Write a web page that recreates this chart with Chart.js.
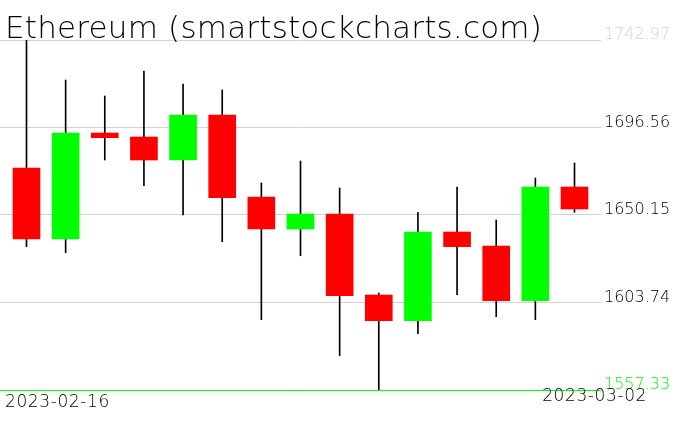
<!DOCTYPE html>
<html lang="en">
<head>
  <meta charset="UTF-8" />
  <title>Ethereum (smartstockcharts.com)</title>
  <script src="https://cdn.jsdelivr.net/npm/chart.js"></script>
  <style>
    html, body { margin: 0; padding: 0; background: #fff; }
    #wrap { width: 676px; height: 431px; }
  </style>
</head>
<body>
  <div id="wrap"><canvas id="chart" width="676" height="431"></canvas></div>

  <script>
    const title = 'Ethereum (smartstockcharts.com)';
    const dates = ['2023-02-16','2023-02-17','2023-02-18','2023-02-19','2023-02-20',
                   '2023-02-21','2023-02-22','2023-02-23','2023-02-24','2023-02-25',
                   '2023-02-26','2023-02-27','2023-02-28','2023-03-01','2023-03-02'];
    const openP  = [1675.08, 1637.42, 1693.64, 1691.52, 1679.32, 1703.19, 1659.70, 1642.72, 1650.68, 1607.72, 1594.09, 1641.13, 1633.71, 1604.69, 1665.00];
    const highP  = [1742.97, 1721.75, 1713.27, 1726.53, 1719.63, 1716.45, 1667.12, 1678.79, 1664.47, 1608.78, 1651.58, 1665.00, 1647.50, 1669.77, 1677.73];
    const lowP   = [1633.34, 1630.15, 1679.32, 1665.69, 1650.15, 1635.99, 1594.62, 1628.56, 1575.52, 1557.33, 1587.19, 1607.88, 1596.21, 1594.62, 1651.58];
    const closeP = [1637.42, 1693.64, 1691.15, 1679.32, 1703.19, 1659.33, 1642.72, 1650.68, 1607.35, 1594.09, 1641.13, 1633.34, 1604.69, 1665.00, 1653.33];
    const yTicks = [1557.33, 1603.74, 1650.15, 1696.56, 1742.97];
    const axisDates = [dates[0], dates[dates.length - 1]];

    const UP = '#00ff00', DOWN = '#ff0000';
    const FONT = '"DejaVu Sans", sans-serif';

    // title + the two date labels
    const textPlugin = {
      id: 'texts',
      afterDraw(chart) {
        const ctx = chart.ctx;
        ctx.save();
        ctx.fillStyle = '#000';
        ctx.textBaseline = 'alphabetic';
        ctx.font = '200 31px ' + FONT;
        ctx.letterSpacing = '0.2px';
        ctx.fillText(title, 5, 38);
        ctx.font = '200 17px ' + FONT;
        ctx.letterSpacing = '0.6px';
        ctx.textAlign = 'left';
        ctx.fillText(axisDates[0], 5, 407);
        ctx.textAlign = 'right';
        ctx.fillText(axisDates[1], 647, 401);
        ctx.restore();
      }
    };

    new Chart(document.getElementById('chart'), {
      type: 'bar',
      data: {
        datasets: [
          {
            label: 'body',
            order: 1,
            grouped: false,
            barThickness: 27,
            borderWidth: 0,
            data: dates.map((d, i) => ({ x: i, y: [openP[i], closeP[i]] })),
            backgroundColor: dates.map((d, i) => closeP[i] >= openP[i] ? UP : DOWN)
          },
          {
            label: 'wick',
            order: 2,
            grouped: false,
            barThickness: 1,
            borderWidth: 0,
            data: dates.map((d, i) => ({ x: i, y: [lowP[i], highP[i]] })),
            backgroundColor: '#000'
          }
        ]
      },
      options: {
        responsive: false,
        animation: false,
        layout: { padding: { top: 40, bottom: 41, left: 0, right: 0 } },
        plugins: { legend: { display: false }, tooltip: { enabled: false } },
        scales: {
          x: {
            type: 'linear',
            display: false,
            offset: false,
            min: -0.677,
            max: 14.677
          },
          y: {
            position: 'right',
            min: yTicks[0],
            max: yTicks[yTicks.length - 1],
            afterBuildTicks: s => { s.ticks = yTicks.map(v => ({ value: v })); },
            afterFit: s => { s.width = 75; },
            border: { display: false },
            grid: {
              drawTicks: false,
              lineWidth: 1,
              color: c => (c.tick && c.tick.value === yTicks[0]) ? UP : '#d3d3d3'
            },
            ticks: {
              padding: 3,
              labelOffset: -5,
              font: { family: FONT, size: 16, weight: 200 },
              color: c => {
                if (c.tick.value === yTicks[0]) return UP;
                if (c.tick.value === yTicks[yTicks.length - 1]) return '#d3d3d3';
                return '#000';
              },
              callback: v => v.toFixed(2)
            }
          }
        }
      },
      plugins: [textPlugin]
    });
  </script>
</body>
</html>
